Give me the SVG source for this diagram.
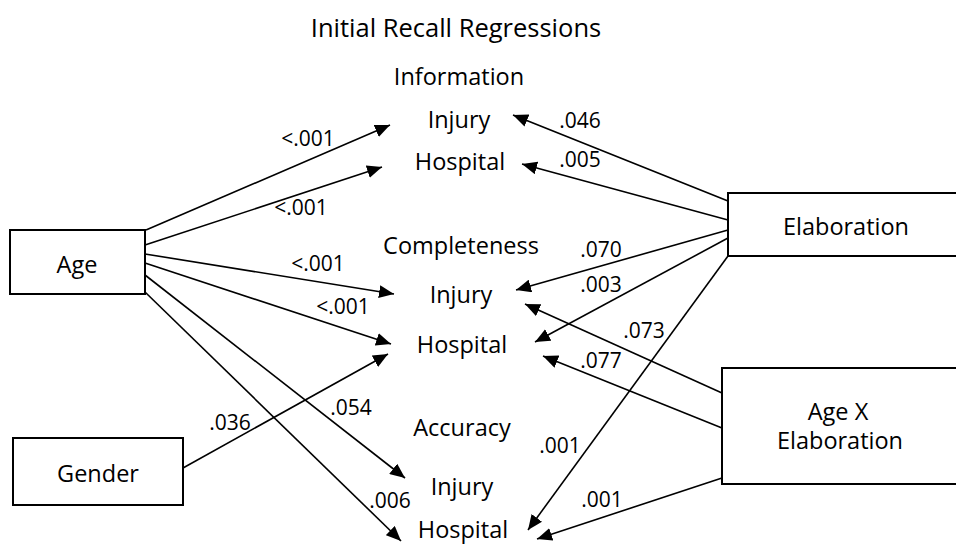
<svg xmlns="http://www.w3.org/2000/svg" width="956" height="546" viewBox="0 0 956 546">
<style>
text{font-family:"Open Sans","Liberation Sans",sans-serif;fill:#000}
.t{font-size:25.5px;text-anchor:middle}
.n{font-size:23.5px;text-anchor:middle}
.p{font-size:21px;text-anchor:middle}
.box{fill:#fff;stroke:#000;stroke-width:2}
.e line{stroke:#000;stroke-width:1.6;marker-end:url(#ah)}
</style>
<defs>
<marker id="ah" markerUnits="userSpaceOnUse" markerWidth="16" markerHeight="13" refX="15" refY="6.5" orient="auto">
<path d="M0,0 L15,6.5 L0,13 z" fill="#000"/>
</marker>
</defs>
<rect width="956" height="546" fill="#fff"/>
<text class="t" x="456" y="37">Initial Recall Regressions</text>
<g id="outcomes">
<text class="n" x="459" y="85">Information</text>
<text class="n" x="459" y="128">Injury</text>
<text class="n" x="460" y="170">Hospital</text>
<text class="n" x="461" y="254">Completeness</text>
<text class="n" x="461" y="303">Injury</text>
<text class="n" x="462" y="353">Hospital</text>
<text class="n" x="462" y="436">Accuracy</text>
<text class="n" x="462" y="495">Injury</text>
<text class="n" x="463" y="538">Hospital</text>
</g>
<g id="age"><rect class="box" x="10" y="230" width="135" height="64"/><text class="n" x="77" y="273">Age</text></g>
<g id="gender"><rect class="box" x="13" y="438" width="170" height="67"/><text class="n" x="98" y="482">Gender</text></g>
<g id="elaboration"><rect class="box" x="728" y="193" width="260" height="63"/><text class="n" x="846" y="235">Elaboration</text></g>
<g id="agexelab"><rect class="box" x="722" y="368" width="260" height="116"/><text class="n" x="838" y="420">Age X</text><text class="n" x="840" y="449">Elaboration</text></g>
<g id="connectors" class="e">
<line x1="146" y1="230" x2="390" y2="125"/>
<line x1="145" y1="245" x2="382" y2="167"/>
<line x1="145" y1="254" x2="394" y2="294"/>
<line x1="145" y1="263" x2="391" y2="344"/>
<line x1="145" y1="275" x2="405" y2="478"/>
<line x1="145" y1="292" x2="401" y2="541"/>
<line x1="183" y1="468" x2="388" y2="354"/>
<line x1="728" y1="201" x2="513" y2="115"/>
<line x1="728" y1="220" x2="522" y2="164"/>
<line x1="728" y1="230" x2="516" y2="290"/>
<line x1="728" y1="238" x2="535" y2="342"/>
<line x1="728" y1="256" x2="528" y2="530"/>
<line x1="722" y1="393" x2="525" y2="304"/>
<line x1="722" y1="428" x2="543" y2="356"/>
<line x1="722" y1="478" x2="537" y2="539"/>
</g>
<g id="labels">
<text class="p" x="308" y="146">&lt;.001</text>
<text class="p" x="301" y="215">&lt;.001</text>
<text class="p" x="318" y="271">&lt;.001</text>
<text class="p" x="343" y="314">&lt;.001</text>
<text class="p" x="351" y="415">.054</text>
<text class="p" x="390" y="508">.006</text>
<text class="p" x="230" y="430">.036</text>
<text class="p" x="580" y="128">.046</text>
<text class="p" x="580" y="167">.005</text>
<text class="p" x="601" y="257">.070</text>
<text class="p" x="601" y="292">.003</text>
<text class="p" x="560" y="453">.001</text>
<text class="p" x="644" y="338">.073</text>
<text class="p" x="601" y="368">.077</text>
<text class="p" x="602" y="507">.001</text>
</g>
</svg>
